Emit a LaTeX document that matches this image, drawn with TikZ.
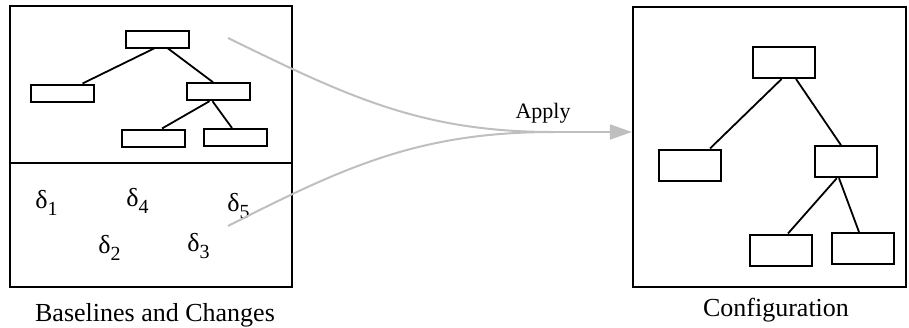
\documentclass[tikz,border=0pt]{standalone}
\usepackage{fontspec}
\setmainfont{Liberation Serif}
\usetikzlibrary{arrows.meta}

\newcommand{\dsub}[1]{δ\raisebox{-3.5pt}{\fontsize{10}{12}\selectfont #1}}

\begin{document}
\begin{tikzpicture}[x=0.5pt,y=-0.5pt,
        frame/.style={draw, line width=1.1pt, inner sep=0pt},
        lbox/.style={draw, line width=1pt, inner sep=0pt, minimum width=31.5pt, minimum height=8.5pt},
        rbox/.style={draw, line width=1pt, inner sep=0pt, minimum width=31pt, minimum height=15.5pt},
        edge/.style={line width=0.9pt},
        flow/.style={draw=gray!50, line width=1pt},
        delta/.style={anchor=base west, inner sep=0pt, font=\fontsize{13}{15}\selectfont},
        caption/.style={anchor=base, font=\fontsize{13}{15}\selectfont}]
                \useasboundingbox (0,0) rectangle (909,327);

                % baselines and changes
                \node[frame, minimum width=141.25pt, minimum height=140.5pt] (base) at (151,146.5) {};
                \draw[line width=1.1pt] (base.west |- 0,163) -- (base.east |- 0,163);
                \node[lbox] (ltop) at (157,39) {};
                \node[lbox] (lleft) at (62.5,93) {};
                \node[lbox] (lmid) at (218.5,91.7) {};
                \node[lbox] (lbl) at (153,138) {};
                \node[lbox] (lbr) at (235,137.5) {};
                \draw[edge] ([xshift=-1.5pt]ltop.south) -- ([xshift=10pt]lleft.north);
                \draw[edge] ([xshift=5.5pt]ltop.south) -- ([xshift=-2.75pt]lmid.north);
                \draw[edge] ([xshift=-4.5pt]lmid.south) -- ([xshift=4.5pt]lbl.north);
                \draw[edge] ([xshift=-3pt]lmid.south) -- ([xshift=-1.5pt]lbr.north);

                \node[delta] (d1) at (35,208) {\dsub{1}};
                \node[delta] (d4) at (126,206) {\dsub{4}};
                \node[delta] (d5) at (227,211.5) {\dsub{5}};
                \node[delta] (d2) at (98,253) {\dsub{2}};
                \node[delta] (d3) at (187,251.5) {\dsub{3}};
                \node[caption] (basecap) at (155,321) {Baselines and Changes};

                % configuration
                \node[frame, minimum width=136.5pt, minimum height=140pt] (config) at (769.5,147) {};
                \node[rbox] (rtop) at (784,62.5) {};
                \node[rbox] (rleft) at (690,165) {};
                \node[rbox] (rmid) at (846,161.7) {};
                \node[rbox] (rbl) at (781,250) {};
                \node[rbox] (rbr) at (862.5,248.5) {};
                \draw[edge] ([xshift=-1.2pt]rtop.south) -- ([xshift=10pt]rleft.north);
                \draw[edge] ([xshift=6pt]rtop.south) -- ([xshift=-2.5pt]rmid.north);
                \draw[edge] ([xshift=-4.6pt]rmid.south) -- ([xshift=3.5pt]rbl.north);
                \draw[edge] ([xshift=-3.5pt]rmid.south) -- ([xshift=-1.75pt]rbr.north);
                \node[caption] (configcap) at (776,316) {Configuration};

                % apply
                \coordinate (from1) at (228,38);
                \coordinate (from2) at (228,226);
                \coordinate (join) at (553,132);
                \draw[flow] (from1) to[out=-26,in=180] (join);
                \draw[flow] (from2) to[out=27,in=180] (join);
                \draw[flow,-{Triangle[length=11pt,width=7.5pt]}] (join) -- (join -| config.west);
                \node[font=\fontsize{11}{13}\selectfont] (apply) at (543,113) {Apply};
\end{tikzpicture}
\end{document}
